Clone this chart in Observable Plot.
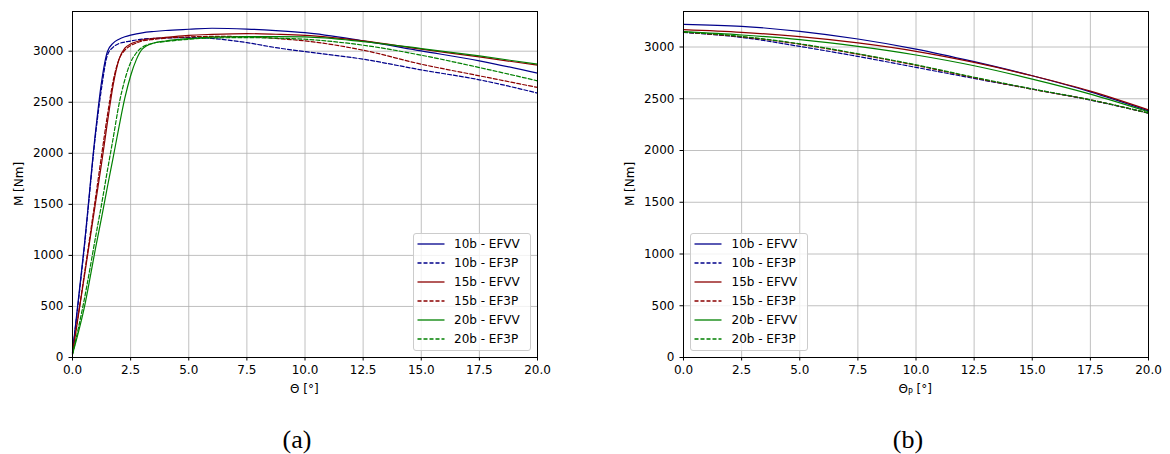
<!DOCTYPE html>
<html><head><meta charset="utf-8">
<script src="https://cdn.jsdelivr.net/npm/d3@7"></script>
<script src="https://cdn.jsdelivr.net/npm/@observablehq/plot@0.6"></script>
<style>
html,body{margin:0;padding:0;background:#fff;}
#page{position:relative;width:1170px;height:454px;overflow:hidden;font-family:"DejaVu Sans",sans-serif;}
.plot{position:absolute;top:0;}
.lbl{position:absolute;font-size:12px;line-height:14px;white-space:nowrap;color:#000;}
.ylbl{position:absolute;font-size:12px;line-height:14px;white-space:nowrap;color:#000;transform:translate(-50%,-50%) rotate(-90deg);}
.cap{position:absolute;font-family:"Liberation Serif",serif;font-size:26px;line-height:28px;transform:translate(-50%,-50%);color:#000;}
.leg{position:absolute;box-sizing:border-box;border:1px solid #cccccc;border-radius:3px;background:rgba(255,255,255,0.8);}
.leg span{position:absolute;font-size:12px;line-height:14px;white-space:nowrap;color:#000;}
sub{font-size:8px;vertical-align:-2px;}
</style></head><body>
<div id="page"></div>
<script>
// ---- data ----
const seriesNames = ["10b - EFVV", "10b - EF3P", "15b - EFVV", "15b - EF3P", "20b - EFVV", "20b - EF3P"];
const seriesColors = ["darkblue", "darkblue", "darkred", "darkred", "green", "green"];
const seriesDashed = [false, true, false, true, false, true];

// (a) M vs Theta
const thetaA = [0, 0.5, 1, 1.25, 1.5, 1.75, 2, 2.25, 2.5, 2.75, 3, 3.5, 4, 5, 6, 7.5, 8.75, 10, 12.5, 15, 17.5, 20];
const mA_10b_EFVV = [50, 1080, 2230, 2700, 2995, 3080, 3118, 3142, 3158, 3170, 3180, 3193, 3203, 3215, 3225, 3217, 3202, 3182, 3101, 3003, 2906, 2785];
const mA_10b_EF3P = [50, 1060, 2200, 2640, 2960, 3040, 3075, 3090, 3100, 3110, 3118, 3125, 3130, 3133, 3125, 3084, 3035, 2996, 2922, 2817, 2720, 2590];
const mA_15b_EFVV = [40, 780, 1530, 1900, 2300, 2670, 2920, 3030, 3070, 3093, 3110, 3125, 3135, 3156, 3165, 3172, 3166, 3156, 3101, 3020, 2944, 2863];
const mA_15b_EF3P = [40, 800, 1580, 1980, 2370, 2710, 2920, 3010, 3055, 3080, 3100, 3116, 3128, 3140, 3145, 3143, 3125, 3101, 3010, 2873, 2759, 2645];
const mA_20b_EFVV = [30, 480, 1080, 1370, 1670, 1960, 2260, 2540, 2760, 2920, 3020, 3080, 3100, 3123, 3138, 3143, 3143, 3140, 3094, 3026, 2954, 2873];
const mA_20b_EF3P = [30, 560, 1190, 1500, 1830, 2150, 2480, 2720, 2890, 2985, 3038, 3080, 3095, 3117, 3130, 3133, 3128, 3117, 3059, 2961, 2840, 2710];

// (b) M vs Theta_P
const thetaB = [0, 2.5, 5, 7.5, 10, 12.5, 15, 17.5, 20];
const mB_10b_EFVV = [3219, 3200, 3151, 3077, 2980, 2858, 2722, 2567, 2383];
const mB_10b_EF3P = [3141, 3093, 3006, 2909, 2803, 2696, 2593, 2487, 2361];
const mB_15b_EFVV = [3167, 3141, 3100, 3039, 2958, 2851, 2722, 2574, 2393];
const mB_15b_EF3P = [3143, 3098, 3027, 2930, 2823, 2703, 2592, 2489, 2361];
const mB_20b_EFVV = [3148, 3116, 3071, 3006, 2923, 2819, 2690, 2545, 2374];
const mB_20b_EF3P = [3146, 3102, 3031, 2935, 2828, 2708, 2595, 2490, 2362];

const xTicks = [0, 2.5, 5, 7.5, 10, 12.5, 15, 17.5, 20];
const yTicks = [0, 500, 1000, 1500, 2000, 2500, 3000];
const yMaxA = 3389;
const yMaxB = 3343;

function rows(theta, lists) {
  const out = [];
  lists.forEach((vals, i) => vals.forEach((m, j) => out.push({series: seriesNames[i], dashed: seriesDashed[i], theta: theta[j], m})));
  return out;
}
const dataA = rows(thetaA, [mA_10b_EFVV, mA_10b_EF3P, mA_15b_EFVV, mA_15b_EF3P, mA_20b_EFVV, mA_20b_EF3P]);
const dataB = rows(thetaB, [mB_10b_EFVV, mB_10b_EF3P, mB_15b_EFVV, mB_15b_EF3P, mB_20b_EFVV, mB_20b_EF3P]);

const page = document.getElementById("page");

function makePlot(data, yMax, mL, mR) {
  const lineOpts = {x: "theta", y: "m", z: "series", stroke: "series", strokeWidth: 1.2, curve: "monotone-x"};
  return Plot.plot({
    width: 585, height: 400,
    marginLeft: mL, marginRight: mR, marginTop: 11, marginBottom: 43,
    style: {fontFamily: "DejaVu Sans", fontSize: "12px", background: "transparent", color: "#000", overflow: "visible"},
    x: {domain: [0, 20]},
    y: {domain: [0, yMax]},
    color: {domain: seriesNames, range: seriesColors},
    marks: [
      Plot.gridX(xTicks, {stroke: "#b0b0b0", strokeOpacity: 1, strokeWidth: 0.8}),
      Plot.gridY(yTicks, {stroke: "#b0b0b0", strokeOpacity: 1, strokeWidth: 0.8}),
      ...seriesNames.map((s, i) => Plot.line(data.filter(d => d.series === s),
        {...lineOpts, strokeDasharray: seriesDashed[i] ? "4,2" : null})),
      Plot.frame({stroke: "#000", strokeWidth: 1}),
      Plot.axisX(xTicks, {tickSize: 3.5, tickPadding: 4, tickFormat: d => d.toFixed(1), label: null}),
      Plot.axisY(yTicks, {tickSize: 3.5, tickPadding: 5.5, tickFormat: d => String(d), label: null})
    ]
  });
}

function place(el, left) {
  el.classList.add("plot");
  el.style.left = left + "px";
  page.appendChild(el);
}
place(makePlot(dataA, yMaxA, 72, 48), 0);
place(makePlot(dataB, yMaxB, 98, 22), 585);

function addText(cls, html, x, y) {
  const d = document.createElement("div");
  d.className = cls;
  d.innerHTML = html;
  d.style.left = x + "px";
  d.style.top = y + "px";
  page.appendChild(d);
  return d;
}
// axis labels
const xa = addText("lbl", "Θ [°]", 0, 382); xa.style.left = (304.5 - xa.offsetWidth / 2) + "px";
const xb = addText("lbl", "Θ<sub>P</sub> [°]", 0, 382); xb.style.left = (915 - xb.offsetWidth / 2) + "px";
addText("ylbl", "M [Nm]", 18.5, 183.5);
addText("ylbl", "M [Nm]", 630, 183.5);
// captions
addText("cap", "(a)", 297, 440);
addText("cap", "(b)", 908, 440);

function legend(left, top) {
  const box = document.createElement("div");
  box.className = "leg";
  box.style.left = left + "px";
  box.style.top = top + "px";
  box.style.width = "118px";
  box.style.height = "118px";
  const ns = "http://www.w3.org/2000/svg";
  const svg = document.createElementNS(ns, "svg");
  svg.setAttribute("width", 118); svg.setAttribute("height", 118);
  svg.style.position = "absolute"; svg.style.left = "-1px"; svg.style.top = "-1px";
  seriesNames.forEach((s, i) => {
    const yc = 11 + i * 19;
    const ln = document.createElementNS(ns, "line");
    ln.setAttribute("x1", 4.5); ln.setAttribute("x2", 31.5);
    ln.setAttribute("y1", yc); ln.setAttribute("y2", yc);
    ln.setAttribute("stroke", seriesColors[i]); ln.setAttribute("stroke-width", 1.3);
    if (seriesDashed[i]) ln.setAttribute("stroke-dasharray", "4,2");
    svg.appendChild(ln);
    const sp = document.createElement("span");
    sp.textContent = s;
    sp.style.left = "40.5px";
    sp.style.top = (yc - 8) + "px";
    box.appendChild(sp);
  });
  box.appendChild(svg);
  page.appendChild(box);
}
legend(412.5, 232.5);
legend(690, 232.5);
</script>
</body></html>
